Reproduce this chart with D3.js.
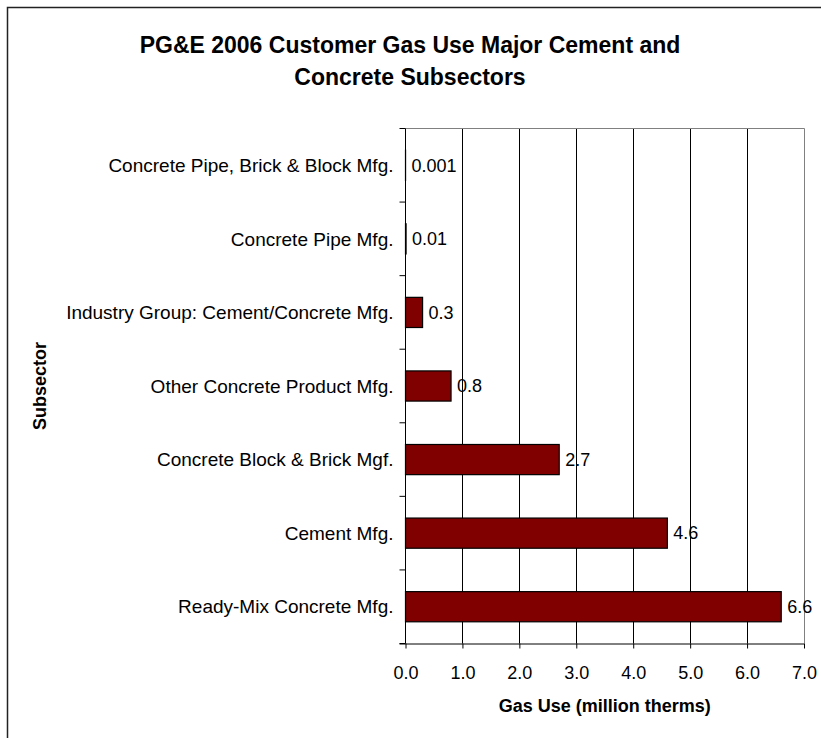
<!DOCTYPE html>
<html>
<head>
<meta charset="utf-8">
<script src="https://cdn.jsdelivr.net/npm/d3@7"></script>
<style>
  html, body { margin: 0; padding: 0; background: #fff; }
  svg { display: block; font-family: Arial, "Liberation Sans", sans-serif; }
</style>
</head>
<body>
<svg id="chart" width="821" height="738"></svg>
<script>
// Subsectors listed top to bottom, with 2006 gas use in million therms
const subsectors = [
  "Concrete Pipe, Brick & Block Mfg.",
  "Concrete Pipe Mfg.",
  "Industry Group: Cement/Concrete Mfg.",
  "Other Concrete Product Mfg.",
  "Concrete Block & Brick Mgf.",
  "Cement Mfg.",
  "Ready-Mix Concrete Mfg."
];
const gasUse = [0.001, 0.01, 0.3, 0.8, 2.7, 4.6, 6.6];
const valueLabels = ["0.001", "0.01", "0.3", "0.8", "2.7", "4.6", "6.6"];
const xTicks = [0, 1, 2, 3, 4, 5, 6, 7];
const titleLines = ["PG&E 2006 Customer Gas Use Major Cement and", "Concrete Subsectors"];

const svg = d3.select("#chart");
const plot = { left: 405.5, right: 804, top: 128.5, bottom: 643.5 };

// chart frame (only top and left edges fall inside the page)
svg.append("rect")
  .attr("x", 7.5).attr("y", 7.5)
  .attr("width", 900).attr("height", 900)
  .attr("fill", "none").attr("stroke", "#222").attr("stroke-width", 1.5);

// title
svg.append("g").selectAll("text").data(titleLines).join("text")
  .attr("x", 410).attr("y", (d, i) => 53 + i * 32)
  .attr("text-anchor", "middle")
  .attr("font-size", 23).attr("font-weight", "bold")
  .text(d => d);

const x = d3.scaleLinear().domain([0, 7]).range([plot.left, plot.right]);
const y = d3.scaleBand().domain(subsectors).range([plot.top, plot.bottom]).paddingInner(0.59).paddingOuter(0.295);
const yb = d3.scaleBand().domain(subsectors).range([plot.top, plot.bottom]);

// vertical gridlines
svg.append("g").selectAll("line").data(xTicks.slice(1)).join("line")
  .attr("x1", d => Math.round(x(d)) + 0.5).attr("x2", d => Math.round(x(d)) + 0.5)
  .attr("y1", plot.top).attr("y2", plot.bottom)
  .attr("stroke", d => d === 7 ? "#808080" : "#000").attr("stroke-width", 1);

// plot top border
svg.append("line")
  .attr("x1", plot.left).attr("x2", Math.round(x(7)) + 0.5)
  .attr("y1", plot.top).attr("y2", plot.top)
  .attr("stroke", "#808080");

// bars
svg.append("g").selectAll("rect").data(subsectors).join("rect")
  .attr("x", plot.left)
  .attr("y", d => y(d))
  .attr("width", (d, i) => x(gasUse[i]) - x(0))
  .attr("height", y.bandwidth())
  .attr("fill", "#800000")
  .attr("stroke", "#000").attr("stroke-width", 1.2);

// value labels
svg.append("g").selectAll("text").data(subsectors).join("text")
  .attr("x", (d, i) => x(gasUse[i]) + 6)
  .attr("y", d => y(d) + y.bandwidth() / 2)
  .attr("dy", "0.35em")
  .attr("font-size", 18)
  .text((d, i) => valueLabels[i]);

// x axis
const xAxis = d3.axisBottom(x).tickValues(xTicks).tickFormat(d3.format(".1f")).tickSize(5).tickPadding(18);
const gx = svg.append("g").attr("transform", `translate(0,${plot.bottom})`).call(xAxis);
gx.select(".domain").attr("d", `M${plot.left - 6},0.5H${x(7)}`).attr("stroke", "#000");
gx.selectAll(".tick line").attr("stroke", "#000");
gx.selectAll(".tick text").attr("font-size", 18).attr("font-family", "Arial, 'Liberation Sans', sans-serif").attr("fill", "#000");

// y axis: category labels and boundary ticks
const gy = svg.append("g");
gy.append("line")
  .attr("x1", plot.left).attr("x2", plot.left)
  .attr("y1", plot.top).attr("y2", plot.bottom)
  .attr("stroke", "#000");
const bounds = subsectors.map(d => yb(d)).concat([plot.bottom]);
gy.selectAll("line.bt").data(bounds).join("line").attr("class", "bt")
  .attr("x1", plot.left - 6).attr("x2", plot.left)
  .attr("y1", d => d).attr("y2", d => d)
  .attr("stroke", "#000");
gy.selectAll("text").data(subsectors).join("text")
  .attr("x", plot.left - 12)
  .attr("y", d => yb(d) + yb.bandwidth() / 2)
  .attr("dy", "0.35em")
  .attr("text-anchor", "end")
  .attr("font-size", 19)
  .text(d => d);

// axis titles
svg.append("text")
  .attr("x", (plot.left + plot.right) / 2).attr("y", 712)
  .attr("text-anchor", "middle")
  .attr("font-size", 18).attr("font-weight", "bold")
  .text("Gas Use (million therms)");
svg.append("text")
  .attr("transform", `translate(46,${(plot.top + plot.bottom) / 2}) rotate(-90)`)
  .attr("text-anchor", "middle")
  .attr("font-size", 18).attr("font-weight", "bold")
  .text("Subsector");
</script>
</body>
</html>
